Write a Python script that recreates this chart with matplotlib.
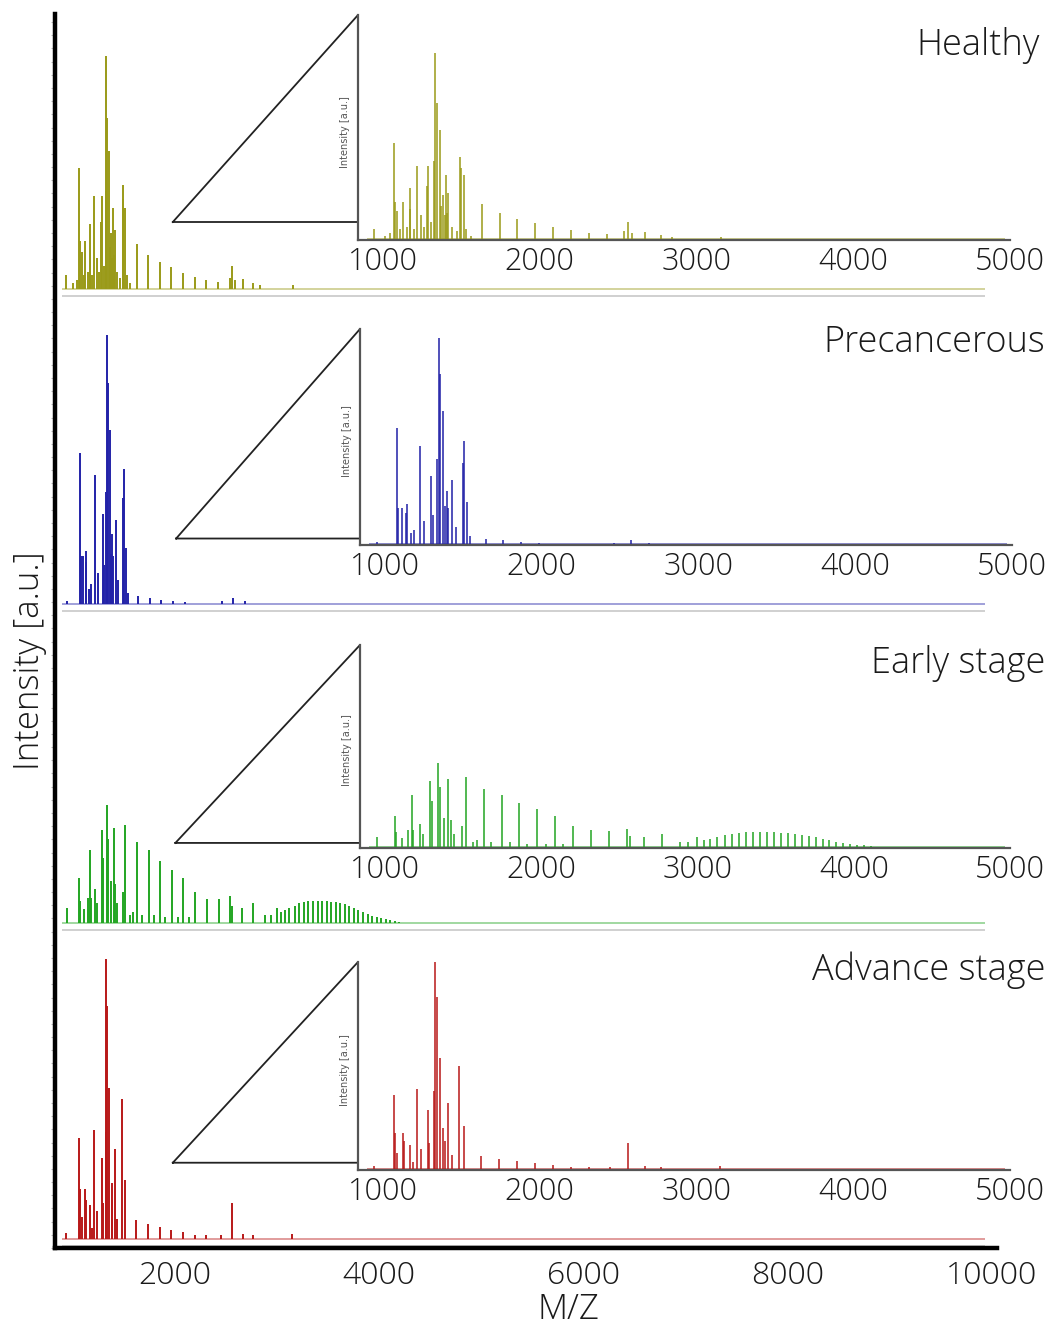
"""Stacked MALDI spectra with zoomed insets"""

import matplotlib.pyplot as plt
from matplotlib.ticker import MultipleLocator

groups = ["Healthy", "Precancerous", "Early stage", "Advance stage"]
colors = ["#9a9a18", "#2222a8", "#23a523", "#b81818"]

healthy_mz = [941, 1010, 1045, 1068, 1074, 1091, 1110, 1127, 1150, 1169,
              1173, 1195, 1216, 1239, 1260, 1281, 1286, 1305, 1328, 1334,
              1341, 1360, 1370, 1381, 1392, 1400, 1410, 1417, 1440, 1470,
              1491, 1497, 1514, 1530, 1560, 1629, 1743, 1857, 1969, 2086,
              2198, 2312, 2428, 2540, 2562, 2590, 2674, 2771, 2841, 3159]
healthy_int = [0.05, 0.02, 0.03, 0.43, 0.17, 0.13, 0.05, 0.17, 0.06, 0.23,
               0.14, 0.05, 0.33, 0.11, 0.06, 0.24, 0.33, 0.08, 0.35, 0.83,
               0.61, 0.49, 0.15, 0.20, 0.11, 0.29, 0.12, 0.21, 0.06, 0.04,
               0.37, 0.32, 0.29, 0.05, 0.02, 0.16, 0.12, 0.095, 0.077, 0.058,
               0.043, 0.033, 0.025, 0.04, 0.081, 0.03, 0.036, 0.021, 0.013, 0.015]

pre_mz = [947, 1078, 1084, 1106, 1132, 1138, 1163, 1184, 1226, 1250,
          1296, 1305, 1334, 1343, 1349, 1368, 1380, 1392, 1402, 1425,
          1451, 1498, 1504, 1523, 1540, 1641, 1755, 1870, 1984, 2098,
          2460, 2572, 2687]
pre_int = [0.012, 0.54, 0.17, 0.17, 0.15, 0.19, 0.054, 0.07, 0.46, 0.11,
           0.32, 0.14, 0.40, 0.96, 0.79, 0.62, 0.18, 0.25, 0.17, 0.30,
           0.085, 0.38, 0.48, 0.20, 0.04, 0.03, 0.023, 0.015, 0.011, 0.006,
           0.011, 0.022, 0.011]

early_mz = [950, 1062, 1070, 1110, 1150, 1172, 1180, 1222, 1245, 1290,
            1300, 1341, 1350, 1375, 1406, 1420, 1440, 1495, 1519, 1560,
            1590, 1631, 1680, 1747, 1800, 1859, 1910, 1972, 2030, 2087,
            2140, 2200, 2316, 2431, 2547, 2565, 2659, 2772, 2887, 2940,
            2999, 3040, 3080, 3125, 3178, 3222, 3267, 3311, 3356, 3400,
            3444, 3489, 3533, 3578, 3622, 3667, 3711, 3756, 3800, 3844,
            3889, 3933, 3978, 4022, 4067, 4111, 4156, 4200]
early_int = [0.054, 0.16, 0.08, 0.05, 0.09, 0.26, 0.09, 0.12, 0.07, 0.33,
             0.23, 0.42, 0.30, 0.15, 0.34, 0.14, 0.07, 0.11, 0.35, 0.03,
             0.04, 0.29, 0.03, 0.26, 0.03, 0.22, 0.02, 0.19, 0.02, 0.16,
             0.02, 0.11, 0.087, 0.084, 0.095, 0.06, 0.054, 0.07, 0.03, 0.03,
             0.054, 0.04, 0.046, 0.055, 0.062, 0.07, 0.076, 0.078, 0.079, 0.08,
             0.08, 0.08, 0.076, 0.074, 0.071, 0.066, 0.061, 0.054, 0.046, 0.038,
             0.031, 0.026, 0.021, 0.016, 0.013, 0.010, 0.007, 0.005]

adv_mz = [941, 1068, 1074, 1091, 1127, 1131, 1169, 1190, 1216, 1239,
          1286, 1296, 1328, 1334, 1343, 1360, 1385, 1392, 1417, 1440,
          1487, 1514, 1624, 1741, 1853, 1969, 2084, 2196, 2312, 2450,
          2560, 2674, 2771, 3152]
adv_int = [0.02, 0.36, 0.18, 0.08, 0.18, 0.14, 0.12, 0.04, 0.39, 0.10,
           0.29, 0.13, 0.38, 1.0, 0.83, 0.54, 0.20, 0.14, 0.32, 0.07,
           0.50, 0.21, 0.067, 0.053, 0.043, 0.032, 0.024, 0.016, 0.013, 0.016,
           0.13, 0.019, 0.013, 0.019]

spectra_mz = [healthy_mz, pre_mz, early_mz, adv_mz]
spectra_int = [healthy_int, pre_int, early_int, adv_int]

main_ticks = [2000, 4000, 6000, 8000, 10000]
inset_ticks = [1000, 2000, 3000, 4000, 5000]
baseline_start = 900
baseline_end = 9930
inset_end = 4970

W, H = 1059, 1334
TEXT = "#1a1a1a"


def px_rect(left, top, right, bottom):
    return [left / W, 1 - bottom / H, (right - left) / W, (bottom - top) / H]


plt.rcParams["font.family"] = ["Open Sans", "DejaVu Sans"]
plt.rcParams["font.weight"] = "light"
plt.rcParams["axes.labelweight"] = "light"

fig = plt.figure(figsize=(W / 100, H / 100), dpi=100)

# main stacked axis
ax = fig.add_axes(px_rect(55, 14, 997, 1248))
offsets = [3.42, 2.296, 1.159, 0.032]
for mz, inten, off, color in zip(spectra_mz, spectra_int, offsets, colors):
    ax.hlines(off - 0.025, baseline_start, baseline_end, color="#c8c8c8", lw=1.2)
    ax.hlines(off, baseline_start, baseline_end, color=color, lw=1.2, alpha=0.5)
    ax.vlines(mz, off, [off + v for v in inten], color=color, lw=1.4)

ax.set_xlim(830, 10050)
ax.set_ylim(0, 4.4)
ax.set_xticks(main_ticks)
ax.set_xticklabels([str(t) for t in main_ticks], fontsize=23, color=TEXT)
ax.tick_params(axis="x", length=0, pad=9)
ax.set_yticks([])
ax.yaxis.set_minor_locator(MultipleLocator(0.047))
ax.tick_params(axis="y", which="minor", length=3, color="#bbbbbb", width=0.8)
for side in ["top", "right"]:
    ax.spines[side].set_visible(False)
ax.spines["left"].set_linewidth(3.2)
ax.spines["bottom"].set_linewidth(3.2)
ax.set_xlabel("M/Z", fontsize=25, color=TEXT)
ax.xaxis.set_label_coords(0.545, -0.036)
ax.set_ylabel("Intensity [a.u.]", fontsize=25, color=TEXT)
ax.yaxis.set_label_coords(-0.008, 0.476)

# zoomed insets
inset_px = [
    (358, 15, 1010, 240),
    (360, 329, 1012, 545),
    (360, 645, 1010, 848),
    (358, 962, 1010, 1170),
]
tri_base = [0.08, 0.03, 0.025, 0.035]
tri_left = [-0.284, -0.282, -0.284, -0.284]
label_pos = [(1040, 45), (1045, 342), (1045, 663), (1045, 970)]

for i, (mz, inten, color) in enumerate(zip(spectra_mz, spectra_int, colors)):
    axi = fig.add_axes(px_rect(*inset_px[i]))
    axi.hlines(0.004, baseline_start, inset_end, color=color, lw=1.2, alpha=0.6)
    axi.vlines(mz, 0, inten, color=color, lw=1.3, alpha=0.85)
    axi.set_xlim(840, inset_end)
    axi.set_ylim(0, 1.0)
    axi.set_xticks(inset_ticks)
    axi.set_xticklabels([str(t) for t in inset_ticks], fontsize=22, color=TEXT)
    axi.tick_params(axis="x", length=0, pad=4)
    axi.set_yticks([])
    axi.patch.set_alpha(0)
    for side in ["top", "right"]:
        axi.spines[side].set_visible(False)
    axi.spines["left"].set_color("#555555")
    axi.spines["bottom"].set_color("#555555")
    axi.spines["left"].set_linewidth(1.6)
    axi.spines["bottom"].set_linewidth(1.6)
    axi.set_ylabel("Intensity [a.u.]", fontsize=7, fontweight="normal",
                   family=["Liberation Sans Narrow", "DejaVu Sans"],
                   color="#555555")
    axi.yaxis.set_label_coords(-0.012, 0.48)
    # zoom triangle
    axi.plot([tri_left[i], 0, 0, tri_left[i]],
             [tri_base[i], tri_base[i], 1.0, tri_base[i]],
             color="#222222", lw=1.3, transform=axi.transAxes, clip_on=False)
    lx, ly = label_pos[i]
    fig.text(lx / W, 1 - ly / H, groups[i], ha="right", va="center",
             fontsize=26, color=TEXT)

fig.savefig("out.png", dpi=100)
